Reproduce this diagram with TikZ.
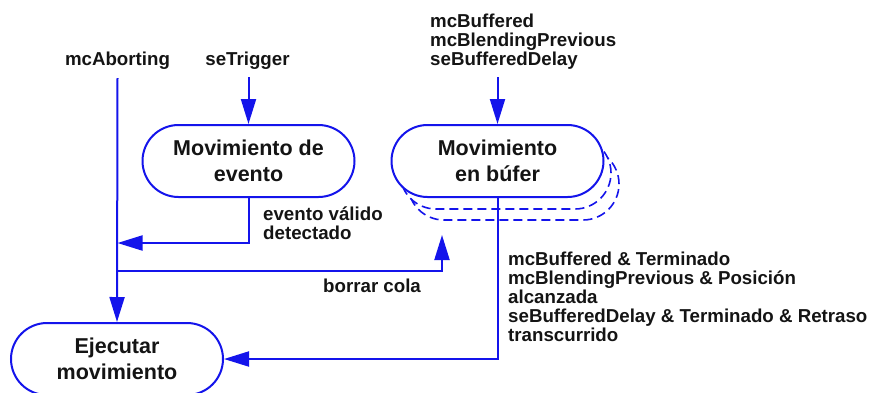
\documentclass[tikz,border=0pt]{standalone}
\usepackage{fontspec}
\setmainfont{Liberation Sans}
\usetikzlibrary{arrows.meta,calc}
\definecolor{lb}{RGB}{20,20,235}
\definecolor{tx}{RGB}{20,20,20}
\newcommand\lblfont{\fontsize{18.7}{19}\selectfont\bfseries}
\newcommand\boxfont{\fontsize{21.5}{26}\selectfont\bfseries}
\tikzset{
  conn/.style={draw=lb, line width=2pt},
  arr/.style={conn, -{Triangle[length=25pt,width=15pt]}},
  statebox/.style={draw=lb, line width=2pt, fill=white, rounded corners=36pt,
    minimum width=212pt, minimum height=72pt, inner sep=0pt,
    align=center, font=\boxfont, text=tx},
  shadowbox/.style={draw=lb, line width=1.6pt, fill=white, rounded corners=36pt,
    dash pattern=on 9pt off 5pt},
  lbl/.style={inner sep=0pt, font=\lblfont, text=tx, align=left},
}
\begin{document}
\begin{tikzpicture}[x=1pt,y=-1pt]
\useasboundingbox (0,0) rectangle (875,392);
% shadows behind buffered box
\path[shadowbox] (408,148) rectangle (619,220);
\path[shadowbox] (400,137) rectangle (611,209);
% state boxes
\node[statebox] (evt) at (248.5,161) {Movimiento de\\evento};
\node[statebox] (buf) at (497.5,161) {Movimiento\\en búfer};
\node[statebox] (ejec) at (117,359) {Ejecutar\\movimiento};
% labels
\node[lbl, anchor=base] (abort) at (117.5,65) {mcAborting};
\node[lbl, anchor=base] (trig) at (247.5,65) {seTrigger};
\node[lbl, anchor=north west] (buflbl) at (430,14) {mcBuffered\\mcBlendingPrevious\\seBufferedDelay};
\node[lbl, anchor=north west] (evlbl) at (263,207) {evento válido\\detectado};
\node[lbl, anchor=base west] (borrar) at (323,292) {borrar cola};
\node[lbl, anchor=north west] (donelbl) at (508,252) {mcBuffered \& Terminado\\mcBlendingPrevious \& Posición\\alcanzada\\seBufferedDelay \& Terminado \& Retraso\\transcurrido};
% coordinates
\coordinate (a0) at (117.5,78);
\coordinate (t0) at (248.5,77);
\coordinate (b0) at (497.5,77);
\coordinate (evj) at (117.5,243);
\coordinate (brj) at (117.5,271);
\coordinate (brt) at (442,235);
% connectors
\draw[arr] (a0) -- (ejec.north);
\draw[arr] (t0) -- (evt.north);
\draw[arr] (b0) -- (buf.north);
\draw[arr] (evt.south) |- (evj);
\draw[arr] (brj) -| (brt);
\draw[arr] (buf.south) |- (ejec.east);
\end{tikzpicture}
\end{document}
